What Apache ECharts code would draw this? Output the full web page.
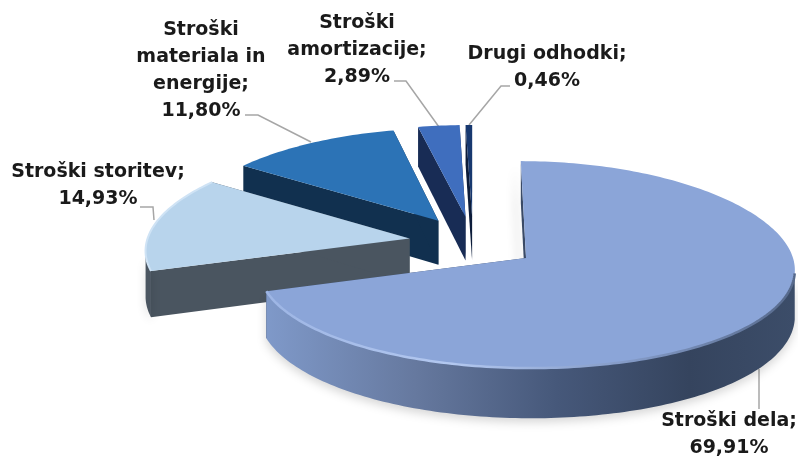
<!DOCTYPE html>
<html><head><meta charset="utf-8">
<style>html,body{margin:0;padding:0;background:#fff}#c{width:798px;height:456px}</style>
<script src="https://cdn.jsdelivr.net/npm/echarts@6/dist/echarts.min.js"></script>
</head><body><div id="c"></div>
<script>
const categories = ['Stroški dela','Stroški storitev','Stroški materiala in energije','Stroški amortizacije','Drugi odhodki'];
const values = [69.91,14.93,11.80,2.89,0.46];
const valueLabels = ['69,91%','14,93%','11,80%','2,89%','0,46%'];
const topColors = ['#8BA5D8','#B8D4EC','#2C73B6','#3F6EBE','#17386F'];
const wallColors = ['#3a4a66','#4A5560','#11304F','#182C55','#0c1c3a'];

const labelWrap = [['Stroški dela;'],['Stroški storitev;'],['Stroški','materiala in','energije;'],['Stroški','amortizacije;'],['Drugi odhodki;']];
const labelAnchor = [[729,421],[98,172],[201,30],[357,23],[547,54]];
const lineGap = 27;
const leaders = [
  [[759,369],[759,409]],
  [[140,207],[153,207],[154,220]],
  [[245,115],[258,115],[311,142]],
  [[394,81],[406,81],[439,127]],
  [[510,86],[501,86],[469,125]]
];

const CX=473, CY=242.5, RX=263, RY=101.5, KX=0.10, KY=0.064, EXPLODE_X=0.245, EXPLODE_Y=0.26, DEPTH=45;
const total = values.reduce((a,b)=>a+b,0);
const starts=[]; values.reduce((acc,v,i)=>{starts[i]=acc;return acc+v;},0);

function proj(X,Y,z){
  return [CX+X*RX*(1+KX*Y), CY+Y*RY*(1+KY*Y)+z*(1+0.1*Y)];
}
function renderSlice(params,api){
  const v=api.value(0), i=api.value(1);
  const a0=starts[i]/total*2*Math.PI, a1=(starts[i]+v)/total*2*Math.PI, mid=(a0+a1)/2;
  const ox=Math.sin(mid)*EXPLODE_X, oy=-Math.cos(mid)*EXPLODE_Y;
  const n=Math.max(4,Math.round((a1-a0)/0.02));
  const arc=[];
  for(let k=0;k<=n;k++){const a=a0+(a1-a0)*k/n;arc.push([ox+Math.sin(a),oy-Math.cos(a)]);}
  const top=[proj(ox,oy,0)].concat(arc.map(p=>proj(p[0],p[1],0)));
  const ch=[];
  const wall=wallColors[i];
  const face=(a,b,extra)=>({type:'polygon',shape:{points:[proj(a[0],a[1],0),proj(b[0],b[1],0),proj(b[0],b[1],DEPTH),proj(a[0],a[1],DEPTH)]},style:Object.assign({fill:wall},extra||{})});
  const soft={shadowBlur:10,shadowColor:'rgba(0,0,0,0.2)',shadowOffsetX:i===0?-6:7,shadowOffsetY:2};
  ch.push(face([ox,oy],arc[0],i===0?soft:null));
  ch.push(face([ox,oy],arc[n],i===4?soft:null));
  const front=arc.filter(p=>p[1]-oy>0.13);
  if(front.length>1){
    const pts=front.map(p=>proj(p[0],p[1],0)).concat(front.slice().reverse().map(p=>proj(p[0],p[1],DEPTH)));
    const fill=i===0?{type:'linear',x:0,y:0,x2:1,y2:0,colorStops:[{offset:0,color:'#7F99C9'},{offset:0.28,color:'#66799F'},{offset:0.55,color:'#46587A'},{offset:0.8,color:'#35445E'},{offset:1,color:'#3C4D69'}]}
      :wall;
    ch.push({type:'polygon',shape:{points:pts},style:{fill,shadowBlur:10,shadowColor:'rgba(0,0,0,0.16)',shadowOffsetY:4}});
  }
  ch.push({type:'polygon',shape:{points:top},style:{fill:topColors[i]}});
  if(i===0&&front.length>1){
    ch.push({type:'polyline',shape:{points:front.map(p=>proj(p[0],p[1],0))},style:{fill:null,lineWidth:2.5,
      stroke:{type:'linear',x:0,y:0,x2:1,y2:0,colorStops:[{offset:0,color:'#9DB5E4'},{offset:0.35,color:'#B3C8F0'},{offset:0.7,color:'#8198C4'},{offset:1,color:'#55688A'}]}}});
  }
  if(i===1){
    ch.push({type:'polyline',shape:{points:arc.map(p=>proj(p[0],p[1],0))},style:{fill:null,lineWidth:2,stroke:'#CFE3F5'}});
  }
  return {type:'group',children:ch};
}

const textStyle={fontFamily:'"DejaVu Sans"',fontWeight:'bold',fontSize:19,fill:'#1a1a1a',textAlign:'center',textVerticalAlign:'middle'};
const graphics=[];
leaders.forEach(pts=>graphics.push({type:'polyline',z:1,shape:{points:pts},style:{fill:null,stroke:'#A6A6A6',lineWidth:1.5}}));
categories.forEach((c,i)=>{
  const lines=labelWrap[i].concat([valueLabels[i]]);
  lines.forEach((t,k)=>graphics.push({type:'text',z:5,x:labelAnchor[i][0],y:labelAnchor[i][1]+k*lineGap,style:Object.assign({text:t},textStyle)}));
});

const chart=echarts.init(document.getElementById('c'),null,{renderer:'canvas'});
chart.setOption({
  animation:false,
  backgroundColor:'#fff',
  graphic:graphics,
  series:[{type:'custom',coordinateSystem:'none',silent:true,clip:false,
    renderItem:renderSlice,
    data:[4,3,2,1,0].map(i=>({name:categories[i],value:[values[i],i]}))}]
});
</script></body></html>
